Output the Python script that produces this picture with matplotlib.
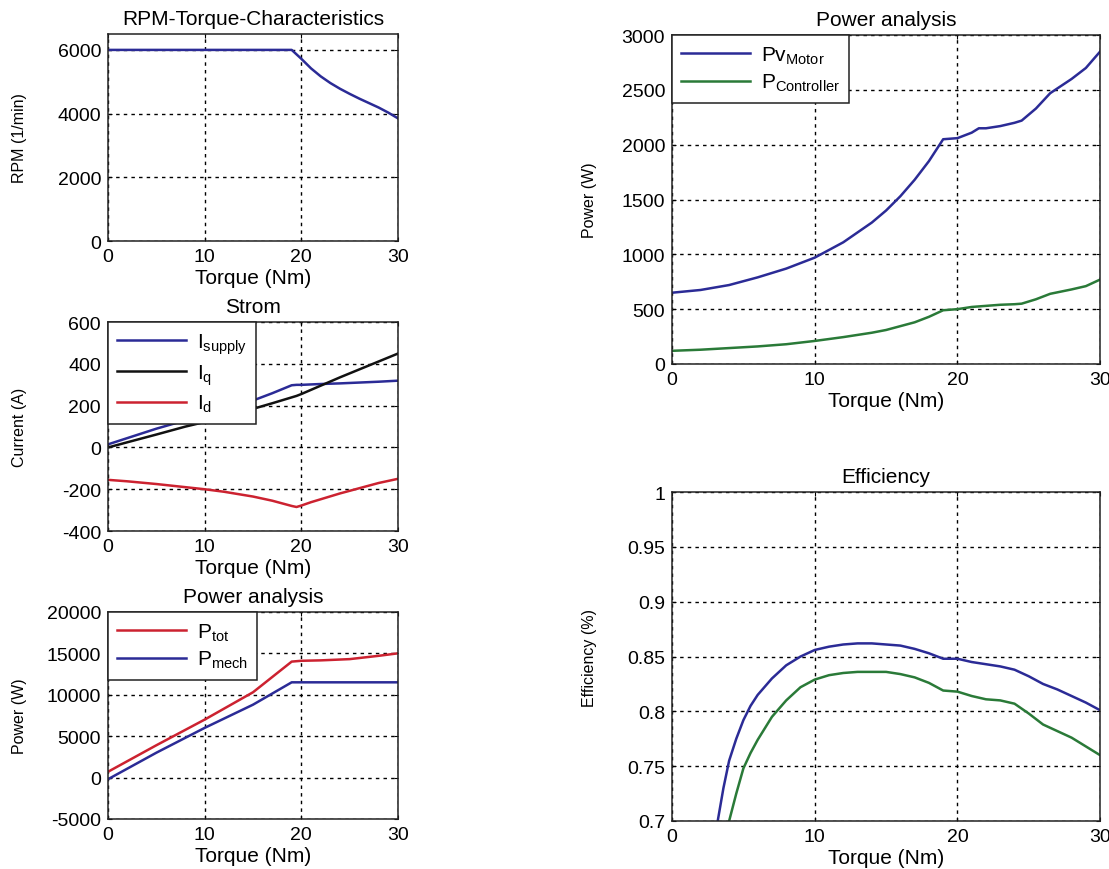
import numpy as np
import matplotlib
matplotlib.use('Agg')
import matplotlib.pyplot as plt

plt.rcParams['font.family'] = ['Liberation Sans', 'DejaVu Sans']
plt.rcParams['mathtext.fontset'] = 'custom'
plt.rcParams['mathtext.rm'] = 'Liberation Sans'
plt.rcParams['mathtext.it'] = 'Liberation Sans'
plt.rcParams['axes.unicode_minus'] = False

# colours (MATLAB-ish)
c_blue = '#2b2b96'
c_green = '#2a7a38'
c_red = '#cc2230'
c_black = '#111111'

# RPM over torque
rpm_T = [0, 5, 10, 15, 19, 20, 21, 22, 23, 24, 25, 26, 27, 28, 29, 30]
rpm_n = [6000, 6000, 6000, 6000, 6000, 5720, 5420, 5170, 4960, 4780, 4620, 4470, 4330, 4190, 4030, 3850]

# currents
cur_T = [0, 2, 5, 8, 10, 12, 15, 17, 19, 19.5, 20, 21, 22, 24, 26, 28, 30]
i_supply = [15, 45, 90, 130, 155, 185, 225, 260, 298, 300, 300, 302, 304, 307, 311, 315, 320]
i_q = [0, 25, 62, 100, 122, 148, 185, 212, 240, 247, 256, 276, 296, 336, 374, 412, 450]
i_d = [-155, -162, -175, -190, -200, -212, -235, -255, -280, -285, -278, -262, -248, -220, -195, -170, -150]

# total and mechanical power
pw_T = [0, 5, 10, 15, 19, 20, 22, 25, 28, 30]
p_tot = [700, 3900, 7000, 10300, 14000, 14100, 14150, 14300, 14700, 15000]
p_mech = [-200, 3000, 6000, 8800, 11500, 11500, 11500, 11500, 11500, 11500]

# losses
loss_T = [0, 2, 4, 6, 8, 10, 12, 14, 15, 16, 17, 18, 18.5, 19, 20, 21, 21.5, 22, 23, 24, 24.5, 25.5, 26.5, 28, 29, 30]
pv_motor = [650, 675, 720, 790, 870, 970, 1110, 1290, 1400, 1530, 1680, 1850, 1950, 2050, 2060, 2110, 2150, 2150, 2170, 2200, 2220, 2330, 2470, 2600, 2700, 2850]
p_ctrl = [120, 130, 145, 160, 180, 210, 245, 285, 310, 345, 380, 430, 460, 490, 500, 520, 525, 530, 540, 545, 550, 590, 640, 680, 710, 770]

# efficiency
eff_T = [2.5, 3.2, 3.6, 4.0, 4.5, 5.0, 5.5, 6.0, 7.0, 8.0, 9.0, 10, 11, 12, 13, 14, 15, 16, 17, 18, 19, 20, 21, 22, 23, 24, 25, 26, 27, 28, 29, 30]
eta_motor = [0.60, 0.70, 0.73, 0.755, 0.775, 0.792, 0.805, 0.815, 0.830, 0.842, 0.850, 0.856, 0.859, 0.861, 0.862, 0.862, 0.861, 0.860, 0.857, 0.853, 0.848, 0.848, 0.845, 0.843, 0.841, 0.838, 0.832, 0.825, 0.820, 0.814, 0.808, 0.801]
eta_total = [0.55, 0.63, 0.67, 0.70, 0.725, 0.748, 0.762, 0.774, 0.795, 0.810, 0.822, 0.829, 0.833, 0.835, 0.836, 0.836, 0.836, 0.834, 0.831, 0.826, 0.819, 0.818, 0.814, 0.811, 0.810, 0.807, 0.798, 0.788, 0.782, 0.776, 0.768, 0.760]

xlab = 'Torque (Nm)'
xt = [0, 10, 20, 30]
LW = 1.8


def style(ax, title, ylabel, yticks, ylab_x):
    ax.set_xlim(0, 30)
    ax.set_xticks(xt)
    ax.set_ylim(yticks[0], yticks[-1])
    ax.set_yticks(yticks)
    ax.set_title(title, fontsize=15, pad=7)
    ax.set_xlabel(xlab, fontsize=15, labelpad=2)
    ax.set_ylabel(ylabel, fontsize=11.5)
    ax.yaxis.set_label_coords(ylab_x, 0.5)
    ax.tick_params(labelsize=14, direction='in', length=3, pad=5,
                   top=True, right=True)
    ax.grid(True, color='black', linestyle=(0, (2.5, 3)), linewidth=1.0)
    for s in ax.spines.values():
        s.set_linewidth(1.1)
        s.set_color('#222222')


def leg(ax):
    l = ax.legend(loc='upper left', fontsize=15, frameon=True, fancybox=False,
                  framealpha=1, edgecolor='#222222', handlelength=3.3,
                  handletextpad=0.5, borderaxespad=0, borderpad=0.45,
                  labelspacing=0.3)
    l.get_frame().set_linewidth(1.1)


fig = plt.figure(figsize=(11.09, 8.70), dpi=100)

ax1 = fig.add_axes([0.0974, 0.7218, 0.2615, 0.238])
ax1.plot(rpm_T, rpm_n, color=c_blue, lw=LW)
style(ax1, 'RPM-Torque-Characteristics', 'RPM (1/min)', [0, 2000, 4000, 6000], -0.28)
ax1.set_ylim(0, 6500)

ax2 = fig.add_axes([0.0974, 0.3885, 0.2615, 0.240])
ax2.plot(cur_T, i_supply, color=c_blue, lw=LW, label=r'I$_{\mathrm{supply}}$')
ax2.plot(cur_T, i_q, color=c_black, lw=LW, label=r'I$_{\mathrm{q}}$')
ax2.plot(cur_T, i_d, color=c_red, lw=LW, label=r'I$_{\mathrm{d}}$')
style(ax2, 'Strom', 'Current (A)', [-400, -200, 0, 200, 400, 600], -0.28)
leg(ax2)

ax3 = fig.add_axes([0.0974, 0.0575, 0.2615, 0.238])
ax3.plot(pw_T, p_tot, color=c_red, lw=LW, label=r'P$_{\mathrm{tot}}$')
ax3.plot(pw_T, p_mech, color=c_blue, lw=LW, label=r'P$_{\mathrm{mech}}$')
style(ax3, 'Power analysis', 'Power (W)', [-5000, 0, 5000, 10000, 15000, 20000], -0.28)
leg(ax3)

ax4 = fig.add_axes([0.606, 0.5805, 0.386, 0.378])
ax4.plot(loss_T, pv_motor, color=c_blue, lw=LW, label=r'Pv$_{\mathrm{Motor}}$')
ax4.plot(loss_T, p_ctrl, color=c_green, lw=LW, label=r'P$_{\mathrm{Controller}}$')
style(ax4, 'Power analysis', 'Power (W)', [0, 500, 1000, 1500, 2000, 2500, 3000], -0.175)
leg(ax4)

ax5 = fig.add_axes([0.606, 0.0552, 0.386, 0.378])
ax5.plot(eff_T, eta_motor, color=c_blue, lw=LW)
ax5.plot(eff_T, eta_total, color=c_green, lw=LW)
style(ax5, 'Efficiency', 'Efficiency (%)', [0.7, 0.75, 0.8, 0.85, 0.9, 0.95, 1.0], -0.175)
ax5.set_yticklabels(['0.7', '0.75', '0.8', '0.85', '0.9', '0.95', '1'])

fig.savefig('out.png', dpi=100)
